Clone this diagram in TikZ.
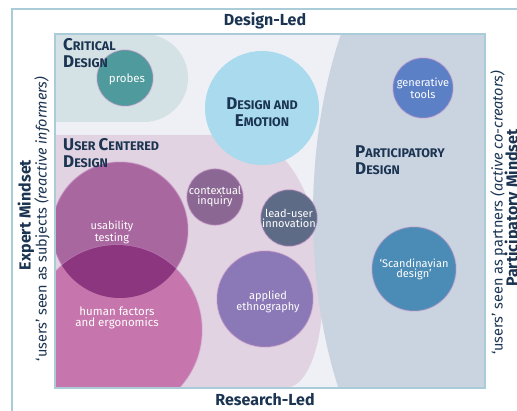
\documentclass[tikz,border=0pt]{standalone}
\usepackage{fontspec}
\setmainfont{Fira Sans}
\usetikzlibrary{positioning}

\definecolor{navy}{HTML}{1B3452}
\definecolor{frameblue}{HTML}{A9CCD8}
\definecolor{innerbg}{HTML}{EEF0F5}
\definecolor{critbg}{HTML}{D5E2E5}
\definecolor{ucdbg}{HTML}{E1D3E1}
\definecolor{partbg}{HTML}{CAD4E1}

\newcommand\hsc[2]{{\fontsize{17}{17}\selectfont #1}{\fontsize{12.5}{17}\selectfont #2}}

\tikzset{
	spot/.style={circle,inner sep=0pt,minimum size=#1,text=white,align=center,
		font=\fontsize{11}{10}\selectfont,draw=violet!45,line width=1.5pt,draw opacity=.35},
	heading/.style={anchor=north west,align=left,text=navy,font=\bfseries\fontsize{12.5}{17}\selectfont,inner sep=0pt},
	axis/.style={text=navy,font=\fontsize{16}{16}\selectfont\bfseries},
	side/.style={text=navy,rotate=90,font=\fontsize{14.5}{14.5}\selectfont}
}

\begin{document}
\begin{tikzpicture}[x=1pt,y=-1pt]
	\useasboundingbox (0,0) rectangle (517,411);
	\fill[white] (0,0) rectangle (517,411);
	\draw[frameblue,line width=1.5pt] (12,9) rectangle (540,430);
	%% regions
	\fill[innerbg] (55,34) rectangle (485,388);
	\fill[critbg] (55,34) -- (144,34) arc[start angle=-90,end angle=90,radius=44] -- (55,122) -- cycle;
	\begin{scope}
		\clip (55,34) rectangle (485,388);
		\fill[ucdbg] (55,135) -- (235,135) .. controls (345,140) and (340,388) .. (285,388) -- (55,388) -- cycle;
		\fill[partbg] (473,215) ellipse[x radius=160,y radius=320];
		%%
		\node[spot=136pt,fill={rgb,255:red,169;green,103;blue,159}] (usability) at (120,230) {};
		\node[spot=170pt,fill={rgb,255:red,198;green,118;blue,172}] (human) at (117,330) {};
		\begin{scope}
			\clip (120,230) circle[radius=68];
			\fill[fill={rgb,255:red,140;green,54;blue,128}] (117,330) circle[radius=85];
		\end{scope}
	\end{scope}
	%% spots
	\node[spot=56pt,fill={rgb,255:red,78;green,154;blue,156}] (probes) at (125,78) {};
	\node[spot=114pt,fill={rgb,255:red,170;green,218;blue,238},draw=none] (emotion) at (262,108) {};
	\node[spot=54pt,fill={rgb,255:red,138;green,104;blue,147}] (contextual) at (215,197) {contextual\\inquiry};
	\node[spot=52pt,fill={rgb,255:red,94;green,107;blue,135}] (leaduser) at (289,218) {lead-user\\innovation};
	\node[spot=96pt,fill={rgb,255:red,139;green,120;blue,182}] (ethno) at (265,299) {};
	\node[spot=60pt,fill={rgb,255:red,92;green,128;blue,198}] (generative) at (423,88) {generative\\tools};
	\node[spot=84pt,fill={rgb,255:red,75;green,140;blue,182}] (scandinavian) at (414,269) {`Scandinavian\\design'};
	%% labels inside the spots
	\node[text=white,align=center,font=\fontsize{11.5}{11}\selectfont] (probeslabel) at (127,79) {probes};
	\node[text=white,align=center,font=\fontsize{11}{10}\selectfont] (usabilitylabel) at (112,232) {usability\\testing};
	\node[text=white,align=center,font=\fontsize{11.5}{11}\selectfont] (humanlabel) at (117,318) {human factors\\and ergonomics};
	\node[text=white,align=center,font=\fontsize{11}{10}\selectfont] (ethnolabel) at (268,302) {applied\\ethnography};
	\node[text=navy,align=center,font=\bfseries\fontsize{12.5}{17}\selectfont] (emotionlabel) at (262,112) {\hsc{D}{ESIGN AND}\\\hsc{E}{MOTION}};
	%% headings
	\node[heading] (critical) at (63,38) {\hsc{C}{RITICAL}\\\hsc{D}{ESIGN}};
	\node[heading] (ucd) at (63,138) {\hsc{U}{SER} \hsc{C}{ENTERED}\\\hsc{D}{ESIGN}};
	\node[heading] (participatory) at (355,146) {\hsc{P}{ARTICIPATORY}\\\hsc{D}{ESIGN}};
	%% axes
	\draw[frameblue,line width=1.5pt] (55,34) rectangle (485,388);
	\node[axis] (designled) at (265,21) {Design-Led};
	\node[axis] (researchled) at (265,400) {Research-Led};
	\node[axis,rotate=90] (expert) at (26,215) {Expert Mindset};
	\node[side] (subjects) at (42,219) {`users' seen as subjects \textit{(reactive informers)}};
	\node[side] (partners) at (498,213) {`users' seen as partners \textit{(active co-creators)}};
	\node[axis,rotate=90] (partmind) at (513,208) {Participatory Mindset};
\end{tikzpicture}
\end{document}
